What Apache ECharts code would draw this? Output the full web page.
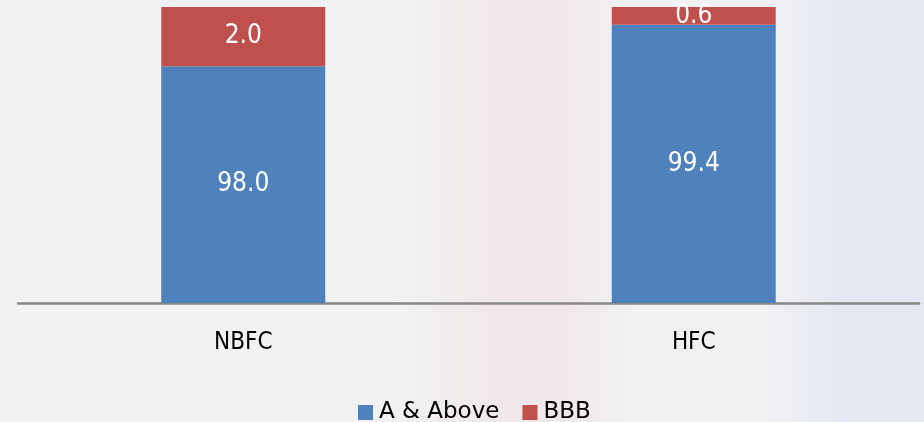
<!DOCTYPE html>
<html>
<head>
<meta charset="utf-8">
<script src="https://cdn.jsdelivr.net/npm/echarts@6/dist/echarts.min.js"></script>
<style>html,body{margin:0;padding:0;background:#f2f2f4}#c{width:924px;height:422px}</style>
</head>
<body>
<div id="c"></div>
<script>
const categories = ['NBFC', 'HFC'];
const seriesNames = ['A & Above', 'BBB'];
const aAndAbove = [98.0, 99.4];
const bbb = [2.0, 0.6];

const FONT = '"DejaVu Sans Condensed", "DejaVu Sans", sans-serif';
const chart = echarts.init(document.getElementById('c'), null, {renderer: 'canvas'});
chart.setOption({
  backgroundColor: '#f2f2f4',
  animation: false,
  graphic: [
    { type: 'rect', z: -10, silent: true, shape: {x: 760, y: 0, width: 164, height: 422},
      style: { fill: new echarts.graphic.LinearGradient(0, 0, 1, 0, [{offset: 0, color: 'rgba(228,232,242,0)'}, {offset: 0.5, color: 'rgba(228,232,242,1)'}, {offset: 1, color: 'rgba(228,232,242,1)'}]) } },
    { type: 'rect', z: -10, silent: true, shape: {x: 390, y: 0, width: 250, height: 422},
      style: { fill: new echarts.graphic.LinearGradient(0, 0, 1, 0, [{offset: 0, color: 'rgba(240,228,228,0)'}, {offset: 0.4, color: 'rgba(240,228,228,0.7)'}, {offset: 0.7, color: 'rgba(240,228,228,0.7)'}, {offset: 1, color: 'rgba(240,228,228,0)'}]) } }
  ],
  grid: { left: 18, right: 5, top: 7, bottom: 119, containLabel: false },
  legend: {
    data: seriesNames,
    left: 358, top: 401, padding: 0,
    itemWidth: 15, itemHeight: 15, itemGap: 23,
    icon: 'rect',
    textStyle: { fontFamily: '"DejaVu Sans", sans-serif', fontSize: 23, color: '#000', padding: [0, 0, 0, 1] }
  },
  xAxis: {
    type: 'category', data: categories,
    axisLine: { show: true, lineStyle: { color: '#878787', width: 2.5 } },
    axisTick: { show: false },
    axisLabel: { fontFamily: FONT, fontSize: 24, color: '#000', margin: 28, lineHeight: 24 }
  },
  yAxis: { type: 'value', min: 90, max: 100, show: false, splitLine: { show: false } },
  series: [
    { name: seriesNames[0], type: 'bar', stack: 'a', data: aAndAbove, barWidth: '36.4%',
      itemStyle: { color: '#4F81BD' },
      label: { show: true, position: 'inside', color: '#fff', fontFamily: FONT, fontSize: 26, formatter: p => p.value.toFixed(1) } },
    { name: seriesNames[1], type: 'bar', stack: 'a', data: bbb, barWidth: '36.4%',
      itemStyle: { color: '#C0504D' },
      label: { show: true, position: 'inside', color: '#fff', fontFamily: FONT, fontSize: 26, formatter: p => p.value.toFixed(1) } }
  ]
});
</script>
</body>
</html>
